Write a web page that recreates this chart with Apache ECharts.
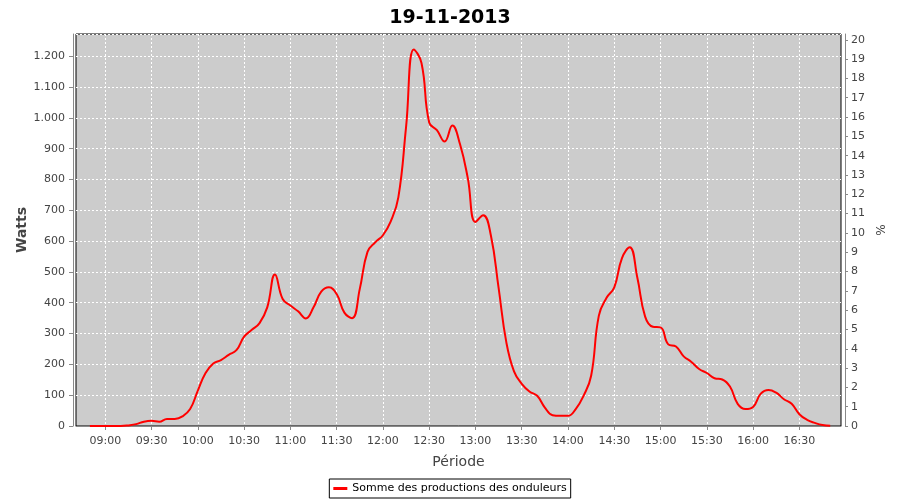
<!DOCTYPE html>
<html><head><meta charset="utf-8">
<script src="https://cdn.jsdelivr.net/npm/echarts@6/dist/echarts.min.js"></script>
<style>html,body{margin:0;padding:0;background:#fff}#c{width:900px;height:500px}</style>
</head><body><div id="c"></div>
<script>
const titleText = '19-11-2013';
const seriesName = 'Somme des productions des onduleurs';
const xAxisName = 'Période';
const leftAxisName = 'Watts';
const rightAxisName = '%';

const times = [
'08:50','08:55','09:00','09:05','09:10','09:15','09:20','09:25','09:30','09:35',
'09:40','09:45','09:50','09:55','10:00','10:05','10:10','10:15','10:20','10:25',
'10:30','10:35','10:40','10:45','10:50','10:55','11:00','11:05','11:10','11:15',
'11:20','11:25','11:30','11:35','11:40','11:45','11:50','11:55','12:00','12:05',
'12:10','12:15','12:20','12:25','12:30','12:35','12:40','12:45','12:50','12:55',
'13:00','13:05','13:10','13:15','13:20','13:25','13:30','13:35','13:40','13:45',
'13:50','13:55','14:00','14:05','14:10','14:15','14:20','14:25','14:30','14:35',
'14:40','14:45','14:50','14:55','15:00','15:05','15:10','15:15','15:20','15:25',
'15:30','15:35','15:40','15:45','15:50','15:55','16:00','16:05','16:10','16:15',
'16:20','16:25','16:30','16:35','16:40','16:45','16:50'
];
const watts = [
0,0,0,0,0,
2,6,14,17,14,
23,23,31,55,115,
172,203,214,231,246,
290,312,334,385,492,
412,391,372,349,385,
436,450,428,368,350,
445,565,596,619,663,
742,970,1222,1178,985,
960,923,975,914,805,
662,684,618,448,272,
177,137,112,98,60,
35,33,33,55,97,
163,358,416,450,545,
580,480,355,322,320,
265,258,226,208,185,
172,155,151,128,72,
55,62,105,117,108,
87,72,38,20,10,
3,1
];
const xTickLabels = ['09:00','09:30','10:00','10:30','11:00','11:30','12:00','12:30',
  '13:00','13:30','14:00','14:30','15:00','15:30','16:00','16:30'];
const axisStart = '08:41', axisEnd = '16:57';
const leftMin = 0, leftMax = 1272, leftInterval = 100;
const rightMin = 0, rightMax = 20.3, rightInterval = 1;

function toMin(s){const p=s.split(':').map(Number);return p[0]*60+p[1];}
function toStr(m){return String(Math.floor(m/60)).padStart(2,'0')+':'+String(m%60).padStart(2,'0');}
const categories=[];
for(let m=toMin(axisStart);m<=toMin(axisEnd);m++) categories.push(toStr(m));
const tickSet = new Set(xTickLabels);
const isTick = (i, v) => tickSet.has(v);
const fmtWatts = v => v>=1000 ? Math.floor(v/1000)+'.'+String(v%1000).padStart(3,'0') : String(v);

const FONT = 'DejaVu Sans';
const chart = echarts.init(document.getElementById('c'));
chart.setOption({
  animation:false,
  textStyle:{fontFamily:FONT},
  title:{text:titleText,left:'center',top:4,textStyle:{fontFamily:FONT,fontSize:19,fontWeight:'bold',color:'#000'}},
  grid:{left:76,right:59,top:34,bottom:74,show:true,backgroundColor:'#cccccc',borderColor:'#000',borderWidth:1},
  legend:{bottom:2,left:'center',data:[seriesName],icon:'rect',itemWidth:14,itemHeight:3,
    borderColor:'#000',borderWidth:1,padding:[4,4],borderRadius:0,
    textStyle:{fontFamily:FONT,fontSize:11,color:'#000'}},
  xAxis:{type:'category',data:categories,boundaryGap:false,offset:4,
    name:xAxisName,nameLocation:'middle',nameGap:25,
    nameTextStyle:{fontFamily:FONT,fontSize:14,color:'#444'},
    axisLine:{lineStyle:{color:'#888'}},
    axisTick:{interval:isTick,length:4,lineStyle:{color:'#888'}},
    axisLabel:{interval:isTick,color:'#444',fontSize:11,margin:6,fontFamily:FONT},
    splitLine:{show:true,interval:isTick,lineStyle:{color:'#fff',type:[2,2],width:1}}
  },
  yAxis:[
    {type:'value',position:'left',min:leftMin,max:leftMax,interval:leftInterval,offset:3,
     name:leftAxisName,nameLocation:'middle',nameGap:44,nameMoveOverlap:false,
     nameTextStyle:{fontFamily:FONT,fontSize:14,fontWeight:'bold',color:'#444'},
     axisLine:{show:true,lineStyle:{color:'#888'}},
     axisTick:{show:true,length:4,lineStyle:{color:'#888'}},
     axisLabel:{formatter:fmtWatts,color:'#444',fontSize:11,margin:8,showMaxLabel:false,fontFamily:FONT},
     splitLine:{show:true,lineStyle:{color:'#fff',type:[2,2],width:1}}
    },
    {type:'value',position:'right',min:rightMin,max:rightMax,interval:rightInterval,offset:4,
     name:rightAxisName,nameLocation:'middle',nameGap:30,
     nameTextStyle:{fontFamily:FONT,fontSize:12,color:'#444'},
     axisLine:{show:true,lineStyle:{color:'#888'}},
     axisTick:{show:true,length:3,lineStyle:{color:'#888'}},
     axisLabel:{color:'#444',fontSize:11,margin:6,showMaxLabel:false,fontFamily:FONT},
     splitLine:{show:false}
    }
  ],
  series:[{
    name:seriesName,type:'line',yAxisIndex:0,
    data:times.map((t,i)=>[t,watts[i]]),
    smooth:0.45,symbol:'none',
    lineStyle:{color:'#ff0000',width:2},
    itemStyle:{color:'#ff0000'}
  }]
});
</script>
</body></html>
